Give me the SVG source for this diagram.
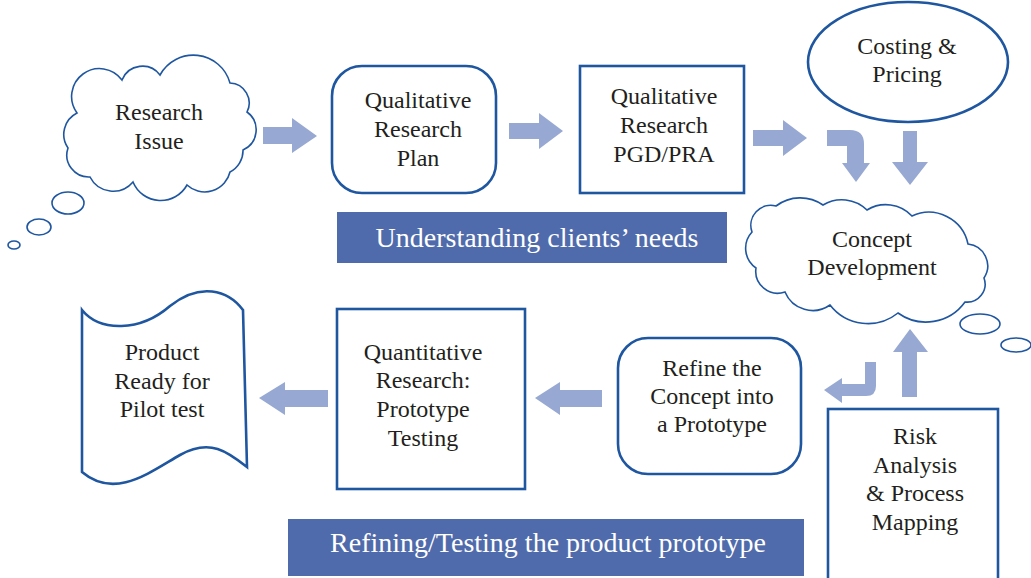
<svg xmlns="http://www.w3.org/2000/svg" width="1031" height="578" viewBox="0 0 1031 578" font-family="'Liberation Serif', 'Times New Roman', serif">
<style>
text{font-family:'Liberation Serif','Times New Roman',serif}
.lbl{font-size:24px;fill:#231f20;text-anchor:middle}
.bnr{font-size:28px;fill:#ffffff;text-anchor:middle}
.box{fill:#ffffff;stroke:#1f56a0;stroke-width:2.6}
.cl{fill:#ffffff;stroke:#1f56a0;stroke-width:1.6}
.ar{fill:#97a9d2;stroke:none}
.ban{fill:#506bab}
</style>
<rect width="1031" height="578" fill="#ffffff"/>

<g id="research-issue">
<path class="cl" d="M77,113 A24,24 0 0 1 122,80 A22,22 0 0 1 160,75 A38,38 0 0 1 230,83 A20,20 0 0 1 247,112 A22,22 0 0 1 243,150 A24,24 0 0 1 230,172 A26,26 0 0 1 187,185 A30,30 0 0 1 133,182 A26,26 0 0 1 90,177 A22,22 0 0 1 68,148 A24,24 0 0 1 77,113 Z"/>
<ellipse class="cl" cx="68" cy="203" rx="16" ry="11"/>
<ellipse class="cl" cx="39" cy="227" rx="12" ry="8"/>
<ellipse class="cl" cx="14" cy="245" rx="6" ry="4"/>
<text class="lbl" x="159" y="120" font-family="Liberation Serif">Research</text>
<text class="lbl" x="159" y="149" font-family="Liberation Serif">Issue</text>
</g>

<g id="qual-plan">
<rect class="box" x="332" y="66" width="164" height="127" rx="30"/>
<text class="lbl" x="418" y="108">Qualitative</text>
<text class="lbl" x="418" y="137">Research</text>
<text class="lbl" x="418" y="166">Plan</text>
</g>

<g id="qual-pgd">
<rect class="box" x="580" y="66" width="164" height="127"/>
<text class="lbl" x="664" y="104">Qualitative</text>
<text class="lbl" x="664" y="133">Research</text>
<text class="lbl" x="664" y="162">PGD/PRA</text>
</g>

<g id="costing">
<ellipse class="box" cx="908" cy="62" rx="100" ry="60"/>
<text class="lbl" x="907" y="54">Costing &amp;</text>
<text class="lbl" x="907" y="82">Pricing</text>
</g>

<g id="concept">
<path class="cl" d="M752,232 A20,20 0 0 1 776,206 A40,40 0 0 1 823,205 A36,36 0 0 1 867,210 A36,36 0 0 1 912,216 A40,40 0 0 1 968,244 A22,22 0 0 1 984,278 A18,18 0 0 1 965,302 A48,48 0 0 1 898,313 A48,48 0 0 1 830,305 A30,30 0 0 1 785,292 A22,22 0 0 1 756,268 A24,24 0 0 1 752,232 Z"/>
<ellipse class="cl" cx="980" cy="324" rx="20" ry="10"/>
<ellipse class="cl" cx="1016" cy="345" rx="15" ry="7"/>
<text class="lbl" x="872" y="247">Concept</text>
<text class="lbl" x="872" y="275">Development</text>
</g>

<g id="risk">
<rect class="box" x="828" y="409" width="170" height="175"/>
<text class="lbl" x="915" y="444">Risk</text>
<text class="lbl" x="915" y="473">Analysis</text>
<text class="lbl" x="915" y="501">&amp; Process</text>
<text class="lbl" x="915" y="530">Mapping</text>
</g>

<g id="refine">
<rect class="box" x="618" y="338" width="183" height="136" rx="30"/>
<text class="lbl" x="712" y="376">Refine the</text>
<text class="lbl" x="712" y="404">Concept into</text>
<text class="lbl" x="712" y="432">a Prototype</text>
</g>

<g id="quant">
<rect class="box" x="337" y="309" width="188" height="180"/>
<text class="lbl" x="423" y="360">Quantitative</text>
<text class="lbl" x="423" y="388">Research:</text>
<text class="lbl" x="423" y="417">Prototype</text>
<text class="lbl" x="423" y="446">Testing</text>
</g>

<g id="product">
<path class="box" d="M82,310 C100,332 140,332 170,306 C200,282 228,290 243,310 L247,467 C228,452 210,438 180,455 C150,472 115,500 82,472 Z"/>
<text class="lbl" x="162" y="360">Product</text>
<text class="lbl" x="162" y="389">Ready for</text>
<text class="lbl" x="162" y="417">Pilot test</text>
</g>

<g id="banner-understanding">
<rect class="ban" x="337" y="212" width="390" height="51"/>
<text class="bnr" x="537" y="247">Understanding clients’ needs</text>
</g>

<g id="banner-refining">
<rect class="ban" x="288" y="519" width="516" height="57"/>
<text class="bnr" x="548" y="552">Refining/Testing the product prototype</text>
</g>

<g id="connectors">
<polygon class="ar" points="263,127 292,127 292,118 317,136 292,153 292,144 263,144"/>
<polygon class="ar" points="509,123 539,123 539,113 563,131 539,149 539,139 509,139"/>
<polygon class="ar" points="753,130 783,130 783,120 807,138 783,156 783,146 753,146"/>
<path class="ar" d="M827,130 L850,130 Q864,130 864,144 L864,163 L870,163 L856,182 L842,163 L847,163 L847,146 L827,146 Z"/>
<polygon class="ar" points="903,131 917,131 917,162 928,162 910,185 892,162 903,162"/>
<polygon class="ar" points="902,397 917,397 917,352 928,352 910,329 893,352 902,352"/>
<path class="ar" d="M865,362 L876,362 L876,386 Q876,396 866,396 L842,396 L842,403 L824,390 L842,378 L842,384 L865,384 Z"/>
<polygon class="ar" points="602,390 560,390 560,382 535,398 560,415 560,407 602,407"/>
<polygon class="ar" points="328,390 285,390 285,382 259,398 285,415 285,407 328,407"/>
</g>
</svg>
